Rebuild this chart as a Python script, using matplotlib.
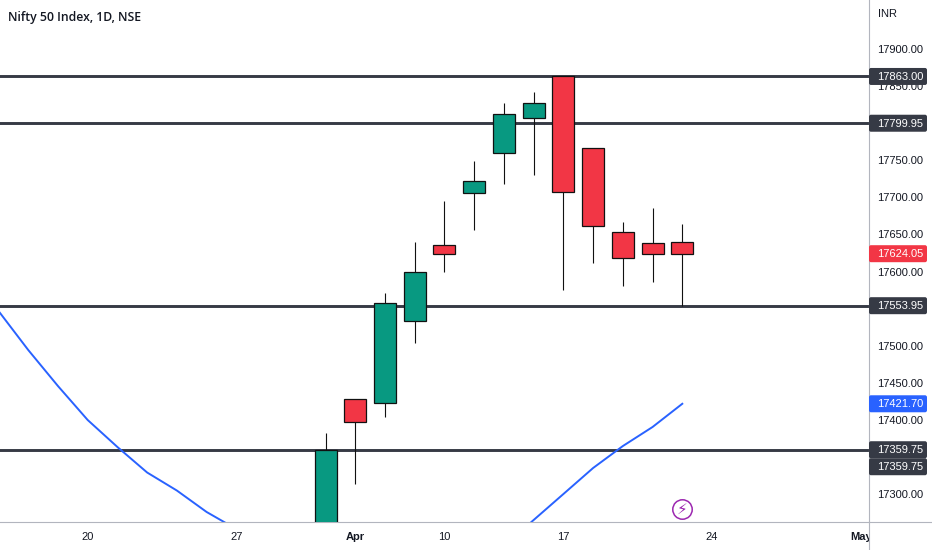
import matplotlib
matplotlib.use('Agg')
import matplotlib.pyplot as plt
from matplotlib.patches import FancyBboxPatch
from matplotlib.transforms import Bbox

plt.rcParams['font.family'] = ['Liberation Sans', 'DejaVu Sans']

# daily candles, bar number 0 is the last session of March
bar_no = [0, 1, 2, 3, 4, 5, 6, 7, 8, 9, 10, 11, 12]
opens = [17245.0, 17427.7, 17422.3, 17533.3, 17635.3, 17705.4, 17759.4, 17806.6, 17863.0, 17766.1, 17653.7, 17638.8, 17640.2]
closes = [17359.75, 17397.5, 17557.1, 17599.7, 17623.6, 17721.6, 17812.4, 17827.2, 17706.8, 17661.0, 17618.6, 17624.0, 17624.05]
highs = [17381.9, 17427.7, 17570.6, 17639.4, 17695.1, 17749.0, 17826.8, 17842.4, 17863.0, 17766.1, 17666.3, 17685.2, 17663.6]
lows = [17225.0, 17313.1, 17404.2, 17504.0, 17598.9, 17656.0, 17718.4, 17730.1, 17574.7, 17611.5, 17580.1, 17585.5, 17553.95]

# moving average, only the parts that stay inside the pane
ma_left_x = [-11, -10, -9, -8, -7, -6, -5, -4, -3]
ma_left_y = [17546.8, 17494.2, 17445.6, 17399.8, 17363.4, 17329.0, 17304.7, 17275.8, 17252.8]
ma_right_x = [6, 7, 8, 9, 10, 11, 12]
ma_right_y = [17229.9, 17265.0, 17300.0, 17335.1, 17364.7, 17390.4, 17421.7]

levels = [17863.0, 17799.95, 17553.95, 17359.75]
# 17350, 17550 and 17800 sit fully behind the tags, so they are left out
price_ticks = [17300, 17400, 17450, 17500, 17600, 17650, 17700, 17750, 17850, 17900]
date_ticks = [-8, -3, 1, 4, 8, 13, 18]
date_labels = ['20', '27', 'Apr', '10', '17', '24', 'May']

# value, colour, shift of the tag in pixels
tag_values = [17863.0, 17799.95, 17624.05, 17553.95, 17421.70, 17359.75, 17359.75]
tag_colors = ['#363a45', '#363a45', '#f23645', '#363a45', '#2962ff', '#363a45', '#363a45']
tag_shift = [0, 0, 0, 0, 0, 0, 17]

GREEN = '#089981'
RED = '#f23645'

fig = plt.figure(figsize=(9.32, 5.5), dpi=100, facecolor='white')
ax = fig.add_axes([0, 28 / 550, 869 / 932, 522 / 550])
ax.set_xlim(-10.95, 18.28)
ax.set_ylim(17262.3, 17966.1)

for v in levels:
    ax.axhline(v, color='#363a45', lw=2.1, zorder=1)

ax.plot(ma_left_x, ma_left_y, color='#2962ff', lw=1.4, zorder=2)
ax.plot(ma_right_x, ma_right_y, color='#2962ff', lw=1.4, zorder=2)

colors = [GREEN if c >= o else RED for o, c in zip(opens, closes)]
ax.vlines(bar_no, lows, highs, color='#111111', lw=0.8, zorder=3)
ax.bar(bar_no, [c - o for o, c in zip(opens, closes)], bottom=opens, width=0.74,
       color=colors, edgecolor='#111111', linewidth=0.9, zorder=4)

# flash icon above the axis
ax.plot([12], [17279.8], 'o', ms=14, mfc='none', mec='#9c27b0', mew=1.1, zorder=5)
ax.text(12, 17279.8, '\u26a1', color='#9c27b0', fontsize=11, ha='center', va='center',
        family='DejaVu Sans', zorder=6)

for side in ['top', 'left']:
    ax.spines[side].set_visible(False)
for side in ['right', 'bottom']:
    ax.spines[side].set_color('#b2b5be')
    ax.spines[side].set_linewidth(0.8)

ax.yaxis.tick_right()
ax.set_yticks(price_ticks)
ax.set_yticklabels(['%.2f' % p for p in price_ticks])
ax.tick_params(axis='y', length=0, pad=5.5, labelsize=8, labelcolor='#131722')
ax.set_xticks(date_ticks)
ax.set_xticklabels(date_labels)
ax.tick_params(axis='x', length=0, pad=7, labelsize=8, labelcolor='#131722')
for lab in ax.get_xticklabels():
    if lab.get_text() in ('Apr', 'May'):
        lab.set_fontweight('bold')
    # May runs into the price scale and gets cut there
    lab.set_clip_box(Bbox([[0, 0], [869, 550]]))
    lab.set_clip_on(True)

# price tags on the scale, drawn in figure pixels from the data position
for v, col, shift in zip(tag_values, tag_colors, tag_shift):
    ypx = ax.transData.transform((0, v))[1] - shift
    ax.add_patch(FancyBboxPatch((869, ypx - 8.5), 58, 17, boxstyle='round,pad=0,rounding_size=2',
                                transform=None, facecolor=col, edgecolor='none',
                                clip_on=False, zorder=8))
    ax.text(877, ypx - 0.5, '%.2f' % v, transform=None, color='white', fontsize=8,
            ha='left', va='center', clip_on=False, zorder=9)

# scale borders run on past the pane
fig.add_artist(plt.Line2D([869 / 932, 869 / 932], [0, 28 / 550], color='#b2b5be', lw=0.8))
fig.add_artist(plt.Line2D([869 / 932, 1], [28 / 550, 28 / 550], color='#b2b5be', lw=0.8))
fig.text(8 / 932, 1 - 17 / 550, 'Nifty 50 Index, 1D, NSE', fontsize=8.8, fontweight=600,
         family='Open Sans', color='#131722', ha='left', va='center')
fig.text(878 / 932, 1 - 14 / 550, 'INR', fontsize=8, color='#131722', ha='left', va='center')

fig.savefig('out.png', dpi=100)
